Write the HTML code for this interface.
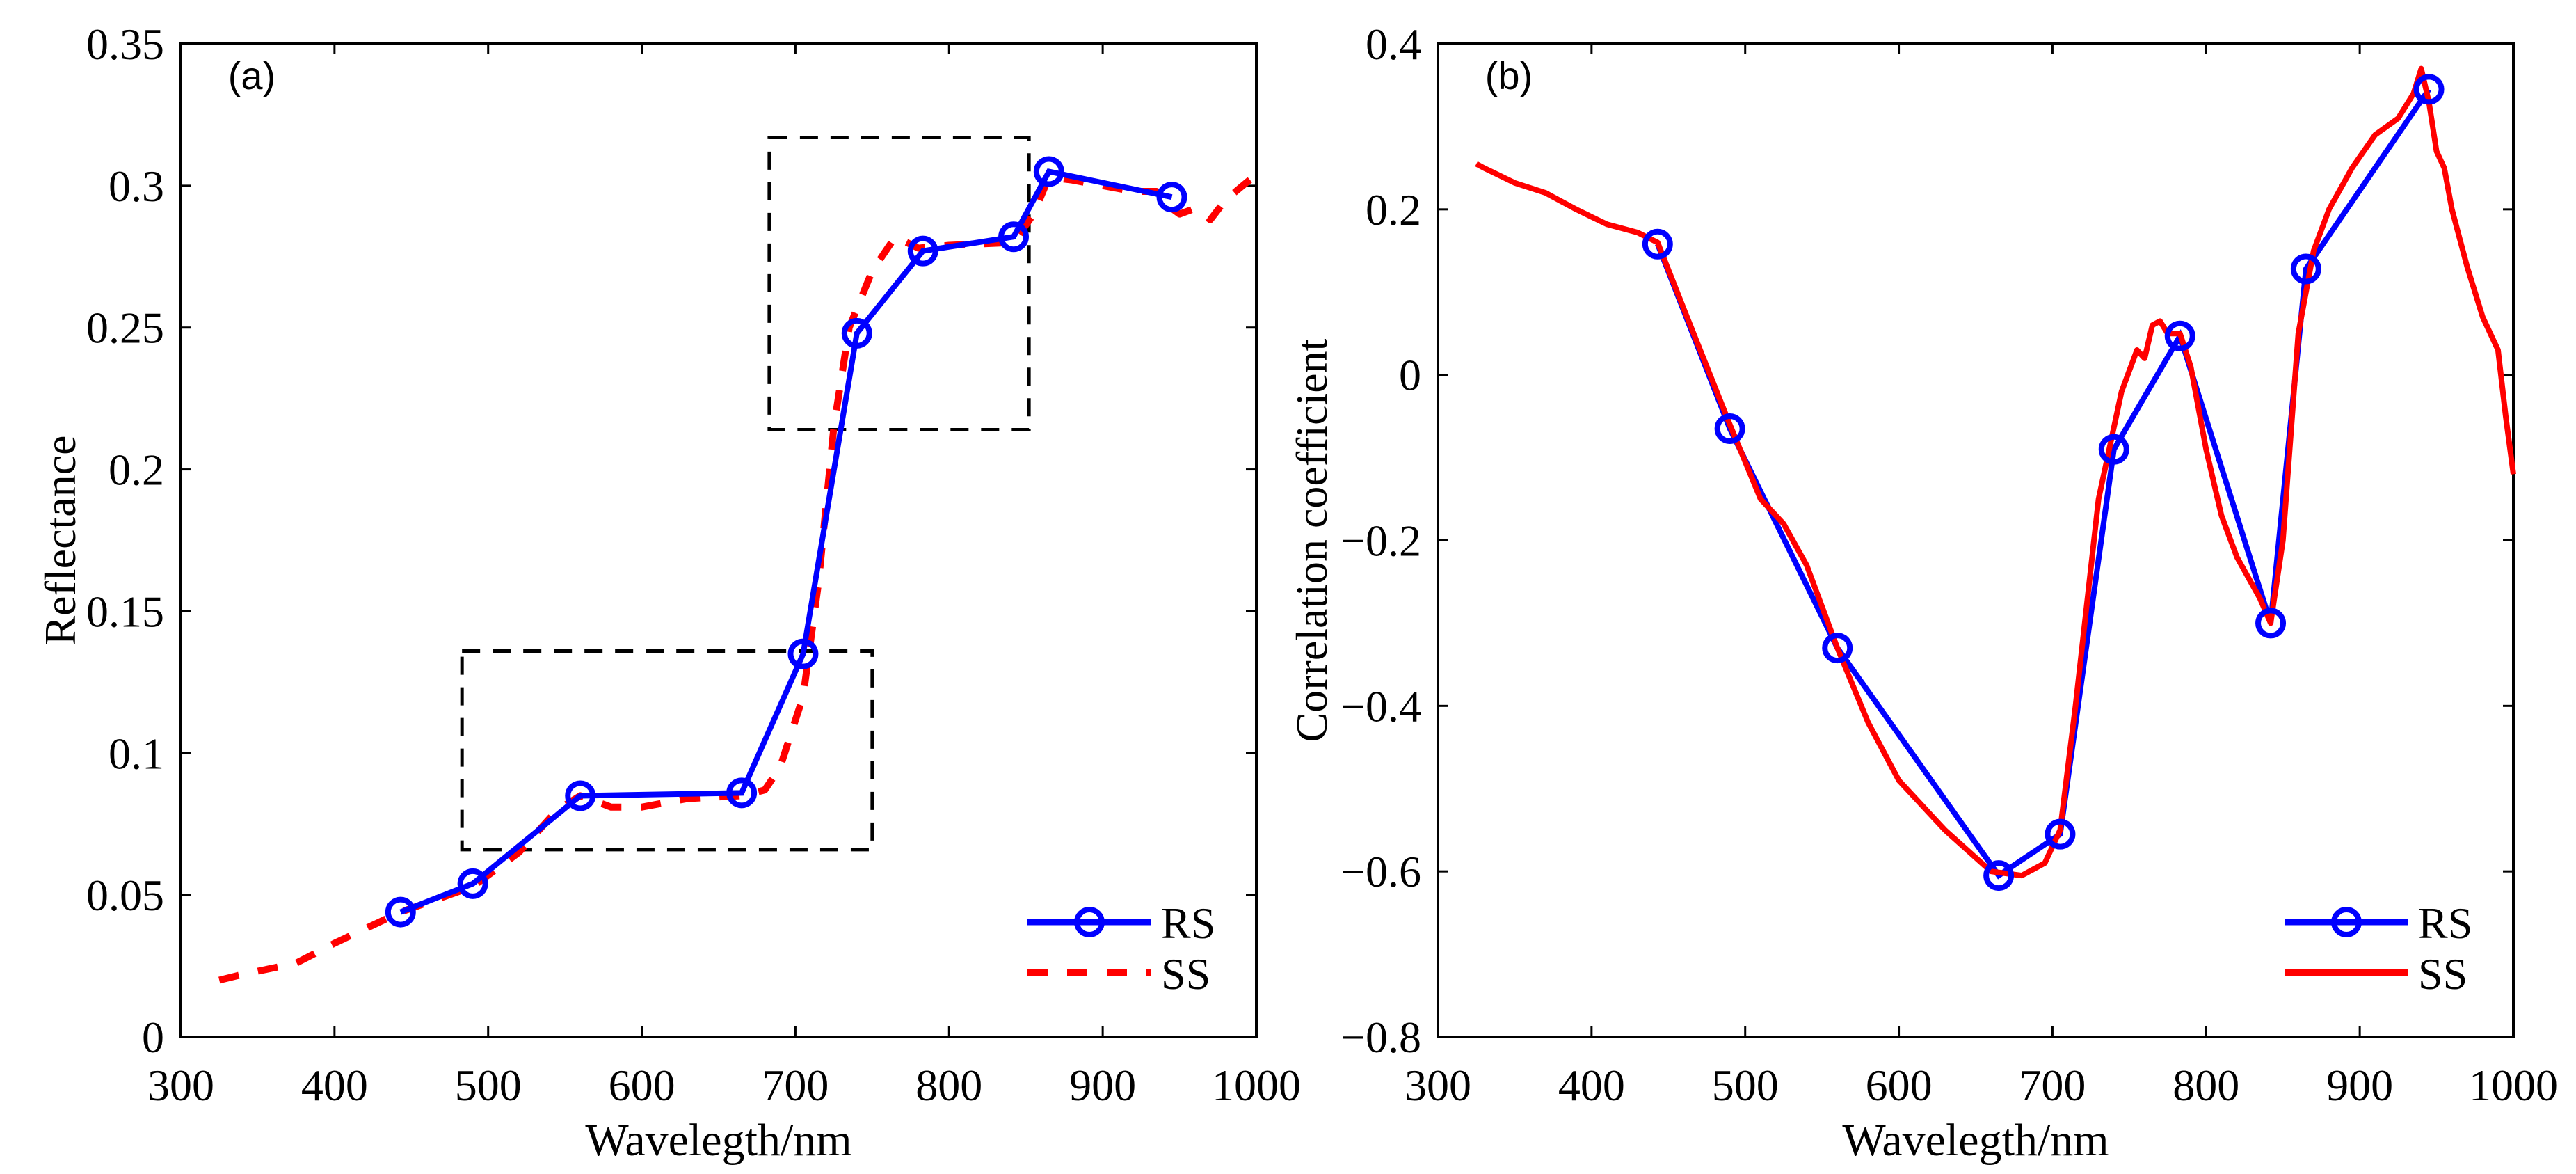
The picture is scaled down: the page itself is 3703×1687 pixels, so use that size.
<!DOCTYPE html>
<html><head><meta charset="utf-8"><style>
html,body{margin:0;padding:0;background:#fff}
svg text{font-family:"Liberation Serif",serif;fill:#000}
</style></head><body>
<svg id="fig" width="3703" height="1682" xmlns="http://www.w3.org/2000/svg"></svg>
<script>
const xTicks=[300,400,500,600,700,800,900,1000];
const aYTicks=[0,0.05,0.1,0.15,0.2,0.25,0.3,0.35];
const aYLabels=["0","0.05","0.1","0.15","0.2","0.25","0.3","0.35"];
const bYTicks=[-0.8,-0.6,-0.4,-0.2,0,0.2,0.4];
const bYLabels=["\u22120.8","\u22120.6","\u22120.4","\u22120.2","0","0.2","0.4"];
const rsWl=[443,490,560,665,705,740,783,842,865,945];
const aRS=[0.044,0.054,0.085,0.086,0.135,0.248,0.277,0.282,0.305,0.296];
const aSSwl=[325,340,375,400,443,490,520,545,560,580,600,630,665,680,690,705,715,725,735,750,765,780,800,842,855,865,880,900,920,935,945,950,960,970,980,1000];
const aSS=[0.020,0.022,0.026,0.033,0.044,0.053,0.065,0.080,0.085,0.081,0.081,0.084,0.085,0.087,0.095,0.120,0.160,0.215,0.250,0.270,0.282,0.278,0.279,0.280,0.290,0.303,0.302,0.300,0.298,0.298,0.292,0.290,0.292,0.288,0.295,0.304];
const bRS=[0.158,-0.065,-0.33,-0.605,-0.555,-0.09,0.047,-0.30,0.128,0.345];
const bSSwl=[325,330,350,370,390,410,430,443,460,490,510,525,540,560,580,600,630,660,680,695,705,715,730,745,755,760,765,770,775,783,790,800,810,820,835,842,850,860,870,880,895,910,925,935,940,945,950,955,960,970,980,990,995,1000];
const bSS=[0.255,0.25,0.232,0.22,0.20,0.182,0.172,0.160,0.08,-0.06,-0.15,-0.18,-0.23,-0.33,-0.42,-0.49,-0.55,-0.60,-0.605,-0.59,-0.55,-0.40,-0.15,-0.02,0.03,0.02,0.06,0.065,0.05,0.05,0.01,-0.09,-0.17,-0.22,-0.27,-0.30,-0.20,0.05,0.15,0.20,0.25,0.29,0.31,0.34,0.37,0.33,0.27,0.25,0.20,0.13,0.07,0.03,-0.05,-0.12];
const boxes=[[483,750,0.066,0.136],[683,852,0.214,0.317]];

const NS="http://www.w3.org/2000/svg";
const svg=document.getElementById('fig');
function el(t,a,p){const e=document.createElementNS(NS,t);for(const k in a)e.setAttribute(k,a[k]);(p||svg).appendChild(e);return e;}
const T=63,B=1490;

function panel(L,R,ymin,ymax,yt,yl,ylabel,tag,name,ytOff){
  const g=el('g',{});
  
  
  const sx=v=>L+(v-300)/700*(R-L);
  const sy=v=>B-(v-ymin)/(ymax-ymin)*(B-T);
  xTicks.forEach(v=>{
    const x=sx(v);
    const t1=el('line',{x1:x,x2:x,y1:B,y2:B-15,stroke:'#000','stroke-width':3},g);
    
    
    el('line',{x1:x,x2:x,y1:T,y2:T+15,stroke:'#000','stroke-width':3},g);
    const tx=el('text',{x:x,y:B+91,'font-size':64,'text-anchor':'middle'},g);
    tx.textContent=v;
    
    
  });
  yt.forEach((v,i)=>{
    const y=sy(v);
    el('line',{x1:L,x2:L+15,y1:y,y2:y,stroke:'#000','stroke-width':3},g);
    el('line',{x1:R,x2:R-15,y1:y,y2:y,stroke:'#000','stroke-width':3},g);
    const tx=el('text',{x:L-24,y:y+22,'font-size':64,'text-anchor':'end'},g);
    tx.textContent=yl[i];
    
    
  });
  const fr=el('rect',{x:L,y:T,width:R-L,height:B-T,fill:'none',stroke:'#000','stroke-width':4},g);
  
  
  const xl=el('text',{x:(L+R)/2,y:1660,'font-size':66,'text-anchor':'middle'},g);
  xl.textContent='Wavelegth/nm';
  
  
  const lx=L-ytOff,ly=(T+B)/2;
  const yl2=el('text',{x:lx,y:ly,'font-size':64,'text-anchor':'middle',transform:`rotate(-90 ${lx} ${ly})`},g);
  yl2.textContent=ylabel;
  
  
  const tg=el('text',{x:L+102,y:128,'font-size':56,'text-anchor':'middle',style:'font-family:"Liberation Sans",sans-serif'},g);
  tg.textContent=tag;
  
  
  return {g,sx,sy,L,R};
}

function legend(p,dashed){
  const g=el('g',{},p.g);
  
  
  const x1=p.R-329,x2=p.R-151;
  el('line',{x1:x1,x2:x2,y1:1325,y2:1325,stroke:'#0000ff','stroke-width':9},g);
  el('circle',{cx:(x1+x2)/2,cy:1325,r:18,fill:'none',stroke:'#0000ff','stroke-width':8},g);
  const t1=el('text',{x:p.R-137,y:1348,'font-size':64},g);t1.textContent='RS';
  
  
  el('line',{x1:x1,x2:x2,y1:1398,y2:1398,stroke:'#ff0000','stroke-width':10,'stroke-dasharray':dashed?'29,28':'none'},g);
  const t2=el('text',{x:p.R-137,y:1421,'font-size':64},g);t2.textContent='SS';
  
  
}

// Panel a
const pa=panel(260,1806,0,0.35,aYTicks,aYLabels,'Reflectance','(a)','panel-a',152);
boxes.forEach(b=>{
  const r=el('rect',{x:pa.sx(b[0]),y:pa.sy(b[3]),width:pa.sx(b[1])-pa.sx(b[0]),height:pa.sy(b[2])-pa.sy(b[3]),fill:'none',stroke:'#000','stroke-width':5,'stroke-dasharray':'26,18'},pa.g);
  
  
});
const aSSp=el('polyline',{points:aSSwl.map((w,i)=>pa.sx(w)+','+pa.sy(aSS[i])).join(' '),fill:'none',stroke:'#ff0000','stroke-width':10,'stroke-dasharray':'29,28','stroke-linejoin':'round'},pa.g);


const aRSp=el('polyline',{points:rsWl.map((w,i)=>pa.sx(w)+','+pa.sy(aRS[i])).join(' '),fill:'none',stroke:'#0000ff','stroke-width':8},pa.g);


rsWl.forEach((w,i)=>{
  const c=el('circle',{cx:pa.sx(w),cy:pa.sy(aRS[i]),r:18,fill:'none',stroke:'#0000ff','stroke-width':8},pa.g);
  
  
});
legend(pa,true);

// Panel b
const pb=panel(2067,3613,-0.8,0.4,bYTicks,bYLabels,'Correlation coefficient','(b)','panel-b',160);
const bRSp=el('polyline',{points:rsWl.map((w,i)=>pb.sx(w)+','+pb.sy(bRS[i])).join(' '),fill:'none',stroke:'#0000ff','stroke-width':8},pb.g);


const bSSp=el('polyline',{points:bSSwl.map((w,i)=>pb.sx(w)+','+pb.sy(bSS[i])).join(' '),fill:'none',stroke:'#ff0000','stroke-width':8,'stroke-linejoin':'round'},pb.g);


rsWl.forEach((w,i)=>{
  const c=el('circle',{cx:pb.sx(w),cy:pb.sy(bRS[i]),r:18,fill:'none',stroke:'#0000ff','stroke-width':8},pb.g);
  
  
});
legend(pb,false);
</script>
</body></html>
